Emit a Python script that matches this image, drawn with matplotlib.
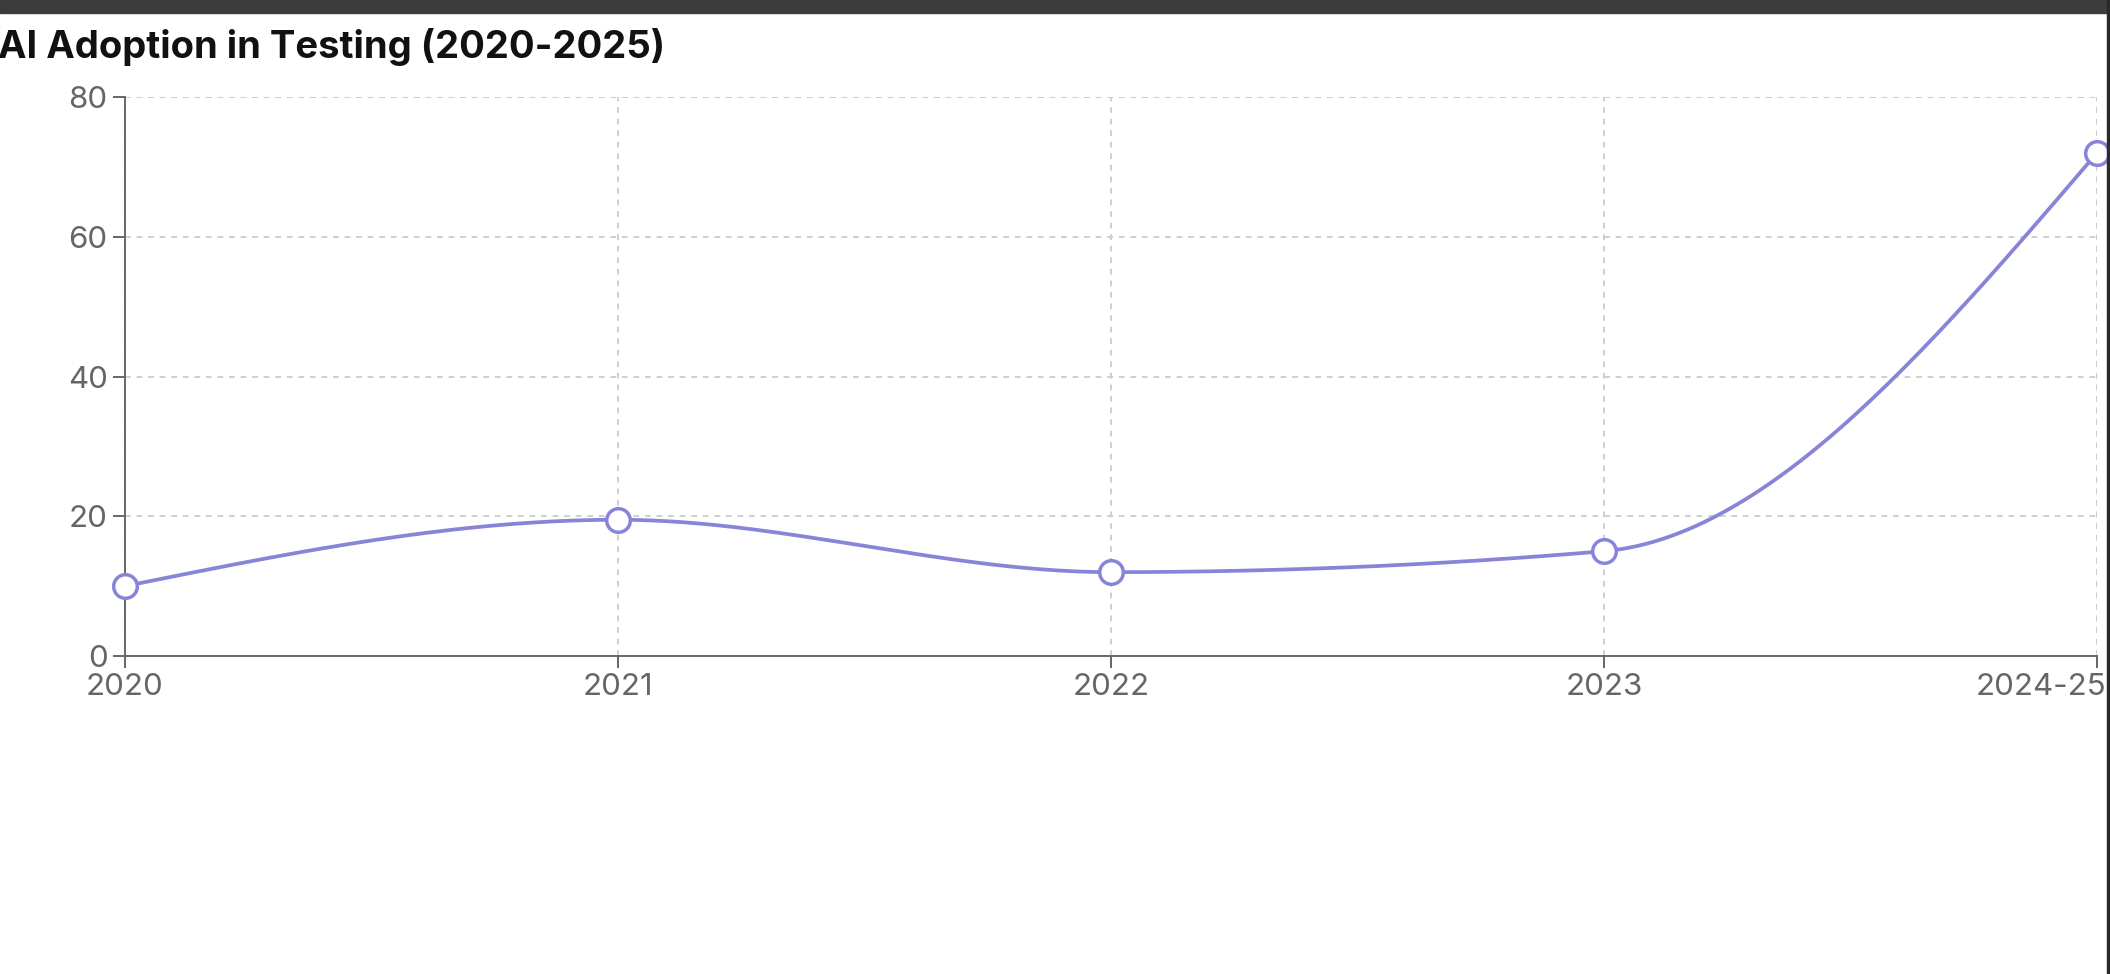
import numpy as np
import matplotlib
matplotlib.use("Agg")
import matplotlib.pyplot as plt
import matplotlib.transforms as mtransforms
from matplotlib.patches import Rectangle

plt.rcParams['font.family'] = ['Inter', 'DejaVu Sans']

# data
years = ["2020", "2021", "2022", "2023", "2024-25"]
adoption = [10, 19.5, 12, 15, 72]
y_ticks = [0, 20, 40, 60, 80]
title = "AI Adoption in Testing (2020-2025)"

line_color = "#8884d8"
axis_color = "#666666"


def monotone_curve(x, y, n=60):
    # same idea as d3 curveMonotoneX
    x = np.asarray(x, float)
    y = np.asarray(y, float)
    h = np.diff(x)
    s = np.diff(y) / h
    t = np.zeros(len(x))
    for i in range(1, len(x) - 1):
        p = (s[i - 1] * h[i] + s[i] * h[i - 1]) / (h[i - 1] + h[i])
        t[i] = (np.sign(s[i - 1]) + np.sign(s[i])) * min(abs(s[i - 1]), abs(s[i]), 0.5 * abs(p))
    t[0] = (3 * s[0] - t[1]) / 2
    t[-1] = (3 * s[-1] - t[-2]) / 2
    xs, ys = [], []
    for i in range(len(x) - 1):
        u = np.linspace(0, 1, n)
        h00 = 2 * u**3 - 3 * u**2 + 1
        h10 = u**3 - 2 * u**2 + u
        h01 = -2 * u**3 + 3 * u**2
        h11 = u**3 - u**2
        xs.append(x[i] + u * h[i])
        ys.append(h00 * y[i] + h10 * h[i] * t[i] + h01 * y[i + 1] + h11 * h[i] * t[i + 1])
    return np.concatenate(xs), np.concatenate(ys)


fig = plt.figure(figsize=(21.10, 9.74), dpi=100)
ax = fig.add_axes([125 / 2110, (974 - 656) / 974, (2097 - 125) / 2110, (656 - 97) / 974])

xpos = np.arange(len(years))
cx, cy = monotone_curve(xpos, adoption)
ax.plot(cx, cy, color=line_color, lw=2.7, zorder=3, solid_capstyle='round')
ax.plot(xpos, adoption, 'o', ms=17, mfc='white', mec=line_color, mew=2.5,
        zorder=4, clip_on=False)

ax.set_xlim(0, len(years) - 1)
ax.set_ylim(0, 80)
ax.set_xticks(xpos)
ax.set_xticklabels(years)
ax.set_yticks(y_ticks)

ax.grid(True, color="#cccccc", lw=1.3, linestyle=(0, (3.2, 3.2)))
ax.set_axisbelow(True)
# top and right grid borders
ax.axhline(80, color="#cccccc", lw=1.3, linestyle=(0, (3.2, 3.2)), zorder=0.5)
ax.axvline(len(years) - 1, color="#cccccc", lw=1.3, linestyle=(0, (3.2, 3.2)), zorder=0.5)

for side in ["top", "right"]:
    ax.spines[side].set_visible(False)
for side in ["left", "bottom"]:
    ax.spines[side].set_color(axis_color)
    ax.spines[side].set_linewidth(1.4)

ax.tick_params(axis='both', colors=axis_color, labelcolor="#666666",
               labelsize=22.5, length=8.5, width=1.4)
ax.tick_params(axis='x', pad=4)
ax.tick_params(axis='y', pad=4)

# last x label sits flush to the right edge
last = ax.get_xticklabels()[-1]
last.set_horizontalalignment('right')
last.set_transform(last.get_transform() + mtransforms.ScaledTranslation(9 / 100, 0, fig.dpi_scale_trans))

fig.text(-2 / 2110, 1 - 47 / 974, title, fontsize=27.5, fontweight='bold',
         color="#111111", ha='left', va='center')

# window chrome from the screenshot
fig.patches.append(Rectangle((0, 1 - 13 / 974), 1, 13 / 974, transform=fig.transFigure,
                             color="#3c3c3c", zorder=10))
fig.patches.append(Rectangle((1 - 3 / 2110, 0), 3 / 2110, 1, transform=fig.transFigure,
                             color="#2a2a2a", zorder=10))

fig.savefig("out.png", dpi=100, facecolor='white')
